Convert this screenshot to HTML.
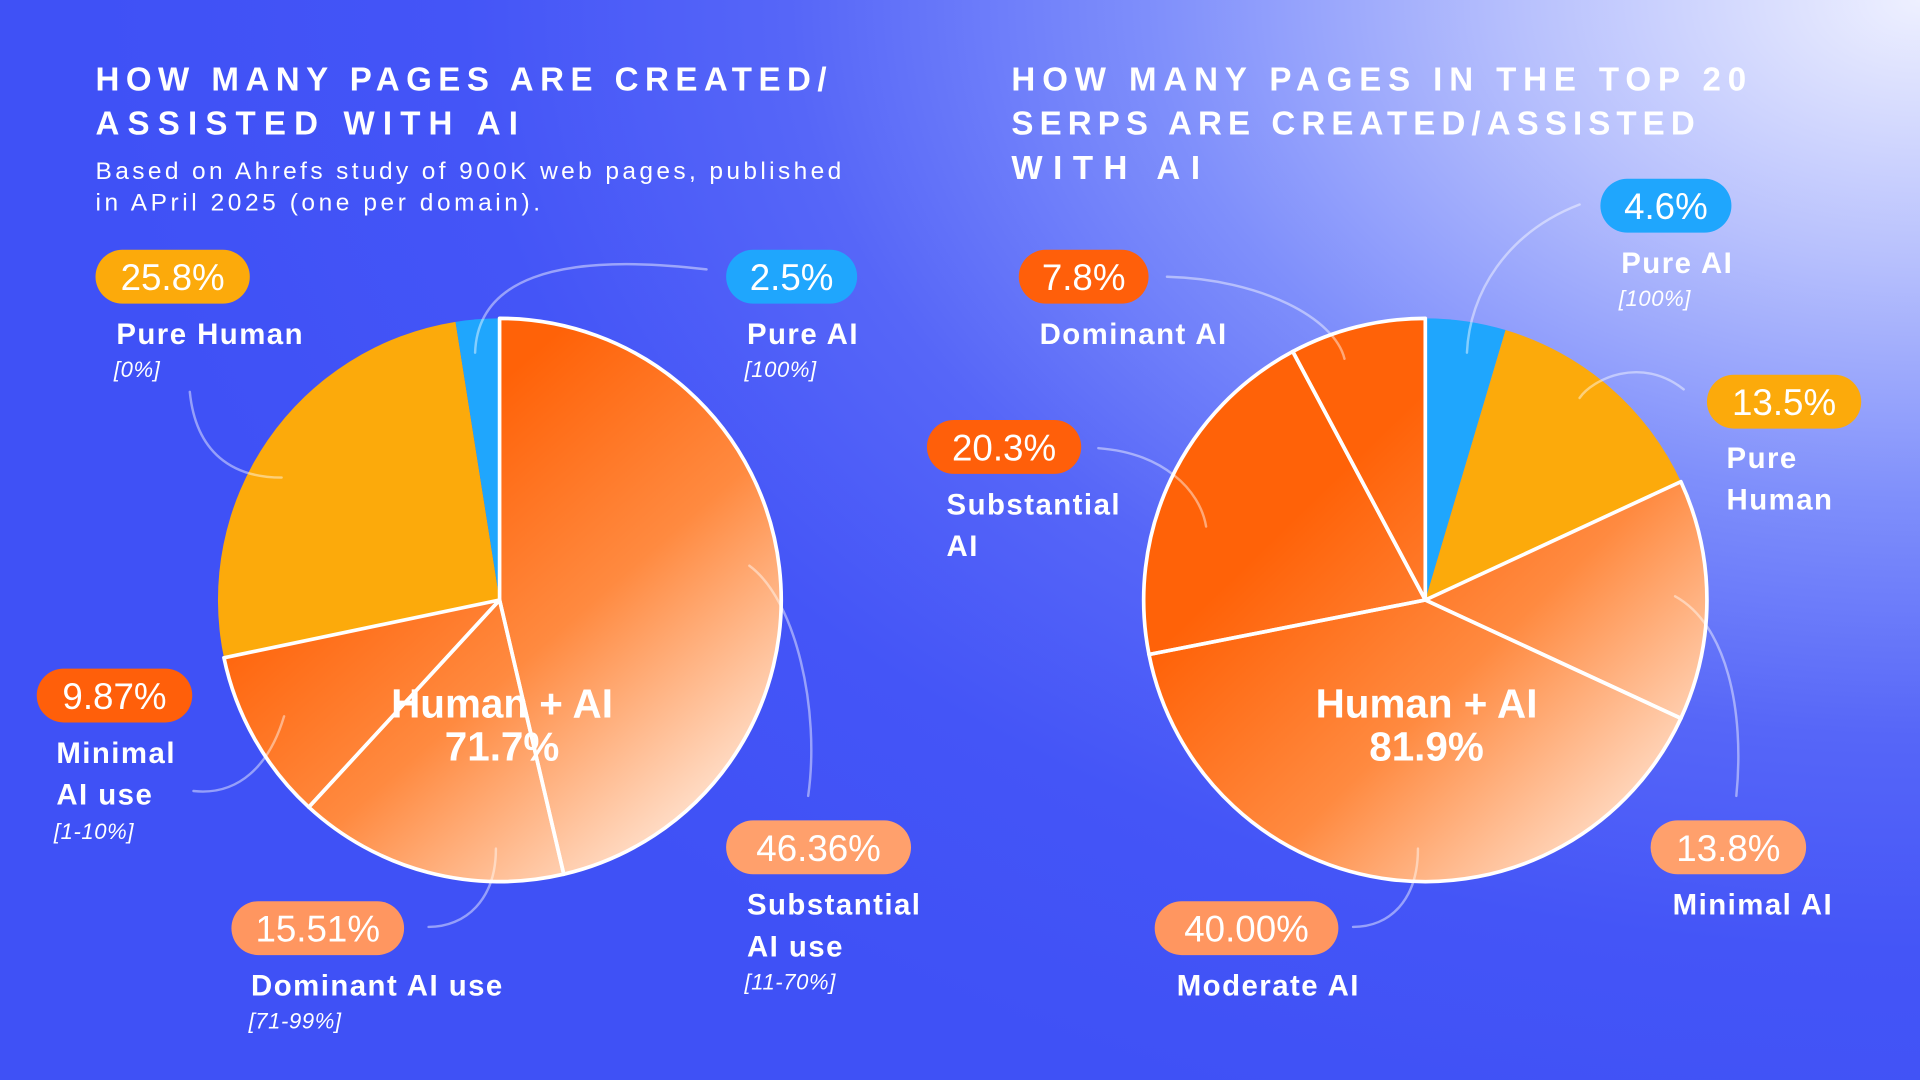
<!DOCTYPE html>
<html><head><meta charset="utf-8"><title>AI content pie charts</title>
<style>
html,body{margin:0;padding:0;width:1920px;height:1080px;overflow:hidden;}
body{background:radial-gradient(ellipse 95% 110% at 100% 0%, #eef0ff 0%, #b7c0fd 22%, #7f8ffb 42%, #5666f8 62%, #4455f7 80%, #3f51f6 100%);font-family:"Liberation Sans",sans-serif;}
svg{display:block}
</style></head>
<body>
<svg width="1920" height="1080" viewBox="0 0 1568 882" xmlns="http://www.w3.org/2000/svg">
<defs>
<linearGradient id="gradL" gradientUnits="userSpaceOnUse" x1="330" y1="380" x2="600" y2="690">
<stop offset="0" stop-color="#ff6208"/><stop offset="0.45" stop-color="#ff8a40"/><stop offset="1" stop-color="#fff0e6"/></linearGradient>
<linearGradient id="gradR" gradientUnits="userSpaceOnUse" x1="1080" y1="400" x2="1370" y2="700">
<stop offset="0" stop-color="#ff6208"/><stop offset="0.45" stop-color="#ff8a40"/><stop offset="1" stop-color="#fff0e6"/></linearGradient>
</defs>
<g font-family="Liberation Sans, sans-serif" fill="#fff">
<text x="78" y="74" font-size="27" font-weight="700" textLength="597" lengthAdjust="spacing">HOW MANY PAGES ARE CREATED/</text>
<text x="78" y="110" font-size="27" font-weight="700" textLength="345" lengthAdjust="spacing">ASSISTED WITH AI</text>
<text x="78" y="146" font-size="20" textLength="609" lengthAdjust="spacing">Based on Ahrefs study of 900K web pages, published</text>
<text x="78" y="172" font-size="20" textLength="363" lengthAdjust="spacing">in APril 2025 (one per domain).</text>
<text x="826" y="74" font-size="27" font-weight="700" textLength="600" lengthAdjust="spacing">HOW MANY PAGES IN THE TOP 20</text>
<text x="826" y="110" font-size="27" font-weight="700" textLength="558" lengthAdjust="spacing">SERPS ARE CREATED/ASSISTED</text>
<text x="826" y="146" font-size="27" font-weight="700" textLength="154" lengthAdjust="spacing">WITH AI</text>
</g>
<g id="pies"></g>
<g id="connectors" fill="none" stroke="rgba(255,255,255,0.45)" stroke-width="2" stroke-linecap="round"></g>
<g id="labels" font-family="Liberation Sans, sans-serif"></g>
</svg>
<script>
// Left chart data
const leftCategories = ["Substantial AI use", "Dominant AI use", "Minimal AI use", "Pure Human", "Pure AI"];
const leftValues = [46.36, 15.51, 9.87, 25.8, 2.5];
const leftTotalLabel = "71.7%";
// Right chart data
const rightCategories = ["Pure AI", "Pure Human", "Minimal AI", "Moderate AI", "Substantial AI", "Dominant AI"];
const rightValues = [4.6, 13.5, 13.8, 40.00, 20.3, 7.8];
const rightTotalLabel = "81.9%";

const NS = "http://www.w3.org/2000/svg";
function el(tag, attrs, parent){const e=document.createElementNS(NS,tag);for(const k in attrs)e.setAttribute(k,attrs[k]);parent.appendChild(e);return e;}
function fillFor(cat, grad){ if(/Pure AI/.test(cat)) return "#1fa6fd"; if(/Pure Human/.test(cat)) return "#fcaa0b"; return grad; }
function angleScale(v,total){return v/total*Math.PI*2;}
function drawPie(cats, vals, cx, cy, r, grad, prefix){
  const g=document.getElementById("pies");
  const total=vals.reduce((a,b)=>a+b,0);
  let a0=-Math.PI/2;
  const orange=[];
  cats.forEach((c,i)=>{
    const a1=a0+angleScale(vals[i],total);
    const x0=cx+r*Math.cos(a0), y0=cy+r*Math.sin(a0), x1=cx+r*Math.cos(a1), y1=cy+r*Math.sin(a1);
    const large=(a1-a0)>Math.PI?1:0;
    const f=fillFor(c,grad);
    const p=el("path",{d:`M${cx},${cy} L${x0},${y0} A${r},${r} 0 ${large} 1 ${x1},${y1} Z`,fill:f},g);
    
    
    if(f===grad) orange.push(p);
    a0=a1;
  });
  orange.forEach(p=>{const q=p.cloneNode();q.setAttribute("fill","none");q.setAttribute("stroke","#fff");q.setAttribute("stroke-width","3");q.setAttribute("stroke-linejoin","round");
    
    
    g.appendChild(q);});
}
drawPie(leftCategories,leftValues,408,490,230,"url(#gradL)","left");
drawPie(rightCategories,rightValues,1164,490,230,"url(#gradR)","right");

const conn=document.getElementById("connectors");
["M577,220 C450,205 390,230 388,288","M155,320 C160,370 190,390 230,390","M612,462 C650,490 670,580 660,650","M232,585 C220,625 195,650 158,646","M405,693 C405,735 380,757 350,757",
 "M1290,167 C1230,190 1200,240 1198,288","M953,226 C1030,228 1090,260 1098,293","M1375,318 C1340,290 1300,310 1290,325","M897,366 C950,370 980,400 985,430","M1368,487 C1410,510 1425,580 1418,650","M1158,693 C1158,735 1135,757 1105,757"].forEach(d=>{
  const p=el("path",{d:d},conn);
  
  
});

const L=document.getElementById("labels");
function pill(x,y,w,txt,color,name){
  const r=el("rect",{x:x,y:y,width:w,height:44,rx:22,fill:color},L);
  
  
  const t=el("text",{x:x+w/2,y:y+33,"font-size":30,"text-anchor":"middle",fill:"#fff"},L);
  t.textContent=txt;
  
  
}
function lbl(x,y,txt,name,italic){
  const t=el("text",{x:x,y:y,"font-size":italic?18:24,"font-weight":italic?400:700,"font-style":italic?"italic":"normal","letter-spacing":italic?0.5:1.2,fill:"#fff"},L);
  t.textContent=txt;
  
  
}
function fmt(v,d){return v.toFixed(d)+"%";}
// left
pill(78,204,126,fmt(leftValues[3],1),"#fcaa0b","left-pure-human");
lbl(95,281,"Pure Human","left-pure-human-label");lbl(93,308,"[0%]","left-pure-human-range",1);
pill(593,204,107,fmt(leftValues[4],1),"#1fa6fd","left-pure-ai");
lbl(610,281,"Pure AI","left-pure-ai-label");lbl(608,308,"[100%]","left-pure-ai-range",1);
pill(30,546,127,fmt(leftValues[2],2),"#ff5f0a","left-minimal");
lbl(46,623,"Minimal","left-minimal-label");lbl(46,657,"AI use","left-minimal-label2");lbl(44,685,"[1-10%]","left-minimal-range",1);
pill(189,736,141,fmt(leftValues[1],2),"#ff9660","left-dominant");
lbl(205,813,"Dominant AI use","left-dominant-label");lbl(203,840,"[71-99%]","left-dominant-range",1);
pill(593,670,151,fmt(leftValues[0],2),"#ffa06c","left-substantial");
lbl(610,747,"Substantial","left-substantial-label");lbl(610,781,"AI use","left-substantial-label2");lbl(608,808,"[11-70%]","left-substantial-range",1);
// right
pill(1307,146,107,fmt(rightValues[0],1),"#1fa6fd","right-pure-ai");
lbl(1324,223,"Pure AI","right-pure-ai-label");lbl(1322,250,"[100%]","right-pure-ai-range",1);
pill(832,204,106,fmt(rightValues[5],1),"#ff5f0a","right-dominant");
lbl(849,281,"Dominant AI","right-dominant-label");
pill(1394,306,126,fmt(rightValues[1],1),"#fcaa0b","right-pure-human");
lbl(1410,382,"Pure","right-pure-human-label");lbl(1410,416,"Human","right-pure-human-label2");
pill(757,343,126,fmt(rightValues[4],1),"#ff5f0a","right-substantial");
lbl(773,420,"Substantial","right-substantial-label");lbl(773,454,"AI","right-substantial-label2");
pill(1348,670,127,fmt(rightValues[2],1),"#ffa06c","right-minimal");
lbl(1366,747,"Minimal AI","right-minimal-label");
pill(943,736,150,fmt(rightValues[3],2),"#ff9660","right-moderate");
lbl(961,813,"Moderate AI","right-moderate-label");
// center labels
function center(x,total,name){
  const a=el("text",{x:x,y:586,"font-size":33,"font-weight":700,"text-anchor":"middle",fill:"#fff"},L);a.textContent="Human + AI";
  
  
  const b=el("text",{x:x,y:621,"font-size":33,"font-weight":700,"text-anchor":"middle",fill:"#fff"},L);b.textContent=total;
  
  
}
center(410,leftTotalLabel,"left");center(1165,rightTotalLabel,"right");
</script>
</body></html>
